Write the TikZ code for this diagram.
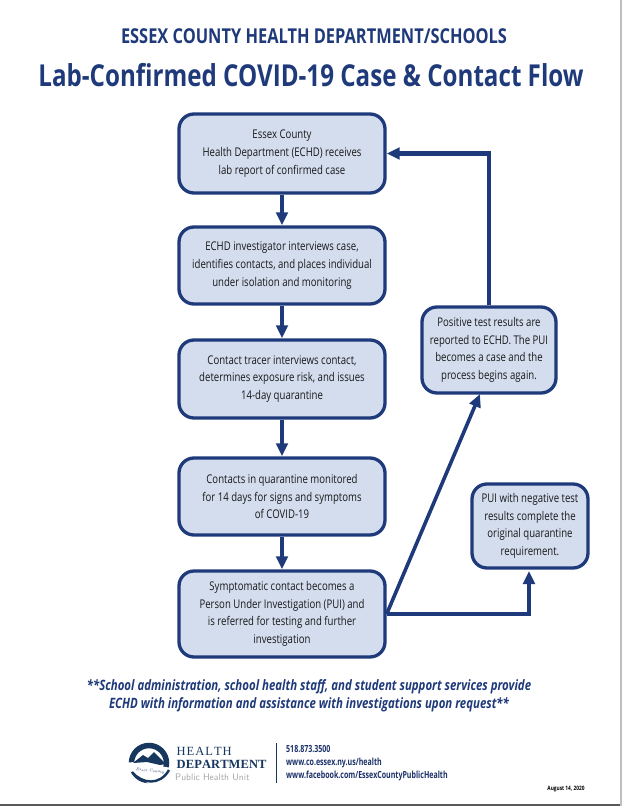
\documentclass[tikz,border=0pt]{standalone}
\usepackage{fontspec}
\usepackage{xcolor}
\usepackage{tikz}
\usetikzlibrary{arrows.meta,shapes,calc}
\newfontfamily\flowfont[FakeStretch=0.8]{Open Sans}
\newfontfamily\contactfont[FakeStretch=0.72]{Open Sans}
\newfontfamily\serifwide{Liberation Serif}
\definecolor{navyline}{HTML}{1F3A7A}
\definecolor{boxfill}{HTML}{D3DDEE}
\definecolor{logonavy}{HTML}{17375E}

\begin{document}
\begin{tikzpicture}[x=1pt,y=-1pt]
            \tikzset{flowbox/.style = {draw=navyline,line width=3.3pt,fill=boxfill,rounded corners=15pt,inner sep=0pt,align=center,font=\flowfont\fontsize{12}{17.6}\selectfont,text=black!90}}
            \tikzset{edge/.style = {draw=navyline,line width=4.2pt,-{Triangle[length=13pt,width=11.5pt]}}}
            \tikzset{heading/.style = {text=navyline,font=\flowfont\bfseries}}
            \tikzset{contact/.style = {anchor=west,text=navyline!85!black,font=\contactfont\bfseries\fontsize{9.8}{12}\selectfont}}
            \useasboundingbox (0,0) rectangle (622,806);
            \fill[white] (0,0) rectangle (622,806);
            \fill[black!65] (0,804) rectangle (622,806);
            \fill[black!25] (620,0) rectangle (622,806);

            % headings
            \node[heading,font=\flowfont\bfseries\fontsize{20.5}{24}\selectfont] (top) at (314,36) {ESSEX COUNTY HEALTH DEPARTMENT/SCHOOLS};
            \node[heading,font=\flowfont\bfseries\fontsize{30.2}{36}\selectfont] (title) at (311,75) {Lab-Confirmed COVID-19 Case \& Contact Flow};

            % boxes
            \node[flowbox,minimum width=206pt,minimum height=79pt] (lab) at (282,153.5) {Essex County\\Health Department (ECHD) receives\\lab report of confirmed case};
            \node[flowbox,minimum width=206pt,minimum height=77pt] (interview) at (282,265.5) {ECHD investigator interviews case,\\identifies contacts, and places individual\\under isolation and monitoring};
            \node[flowbox,minimum width=206pt,minimum height=78pt] (tracer) at (282,379) {Contact tracer interviews contact,\\determines exposure risk, and issues\\14-day quarantine};
            \node[flowbox,minimum width=206pt,minimum height=77pt] (monitor) at (282,496.5) {Contacts in quarantine monitored\\for 14 days for signs and symptoms\\of COVID-19};
            \node[flowbox,minimum width=206pt,minimum height=86pt] (pui) at (282,614) {Symptomatic contact becomes a\\Person Under Investigation (PUI) and\\is referred for testing and further\\investigation};
            \node[flowbox,minimum width=134pt,minimum height=86pt] (positive) at (489,350) {Positive test results are\\reported to ECHD. The PUI\\becomes a case and the\\process begins again.};
            \node[flowbox,minimum width=116pt,minimum height=84pt] (negative) at (530,526) {PUI with negative test\\results complete the\\original quarantine\\requirement.};

            % edges
            \draw[edge] (lab) to (interview);
            \draw[edge] (interview) to (tracer);
            \draw[edge] (tracer) to (monitor);
            \draw[edge] (monitor) to (pui);
            \coordinate (posin) at (480,394);
            \coordinate (negin) at (529,571);
            \draw[edge,line width=3.6pt] (pui.east) to (posin);
            \draw[edge] (pui.east) -| (negin);
            \draw[edge] (positive.north) |- (lab.east);

            % footer
            \node[heading,font=\flowfont\bfseries\itshape\fontsize{14.3}{18}\selectfont,align=center] (note) at (309,696) {**School administration, school health staff, and student support services provide\\ECHD with information and assistance with investigations upon request**};

            % logo
            \node[draw=logonavy,line width=5.5pt,circle,minimum size=35pt] (ring) at (149,763) {};
            \fill[white] (124,763) -- (134,762) -- (172,768) -- (172,773) -- (152,786) -- (131,772) -- cycle;
            \fill[logonavy] (133,763) -- (143,755) -- (148,758) -- (154,752) -- (166,764) -- (160,765) -- (147,762) -- cycle;
            \draw[logonavy,line width=2.4pt] (132,772) .. controls (142,784) and (160,786) .. (169,770);
            \node[text=logonavy,font=\itshape\fontsize{4}{4}\selectfont,rotate=-6] (logotext) at (150,771) {Essex County};
            \node[anchor=west,inner sep=0pt,text=logonavy,font=\serifwide\fontsize{12.5}{14}\selectfont] (health) at (176.5,751) {H\kern1pt E\kern1pt A\kern1pt L\kern1pt T\kern1pt H};
            \node[anchor=west,inner sep=0pt,text=logonavy,font=\serifwide\bfseries\fontsize{12.5}{14}\selectfont] (dept) at (176.5,764) {D\kern.1pt E\kern.1pt P\kern.1pt A\kern.1pt R\kern.1pt T\kern.1pt M\kern.1pt E\kern.1pt N\kern.1pt T};
            \node[anchor=west,inner sep=0pt,text=black!35,font=\sffamily\fontsize{9.5}{10}\selectfont] (unit) at (175,777) {Public Health Unit};
            \coordinate (divtop) at (276,743);
            \coordinate (divbot) at (276,783);
            \draw[logonavy,line width=1pt] (divtop) -- (divbot);
            \node[contact,inner sep=0pt] (phone) at (286,749) {518.873.3500};
            \node[contact,inner sep=0pt] (web) at (286,763) {www.co.essex.ny.us/health};
            \node[contact,inner sep=0pt] (face) at (286,776) {www.facebook.com/EssexCountyPublicHealth};
            \node[inner sep=0pt,text=black,font=\flowfont\bfseries\fontsize{6}{7}\selectfont] (date) at (566,789) {August 14, 2020};
          \end{tikzpicture}
\end{document}
